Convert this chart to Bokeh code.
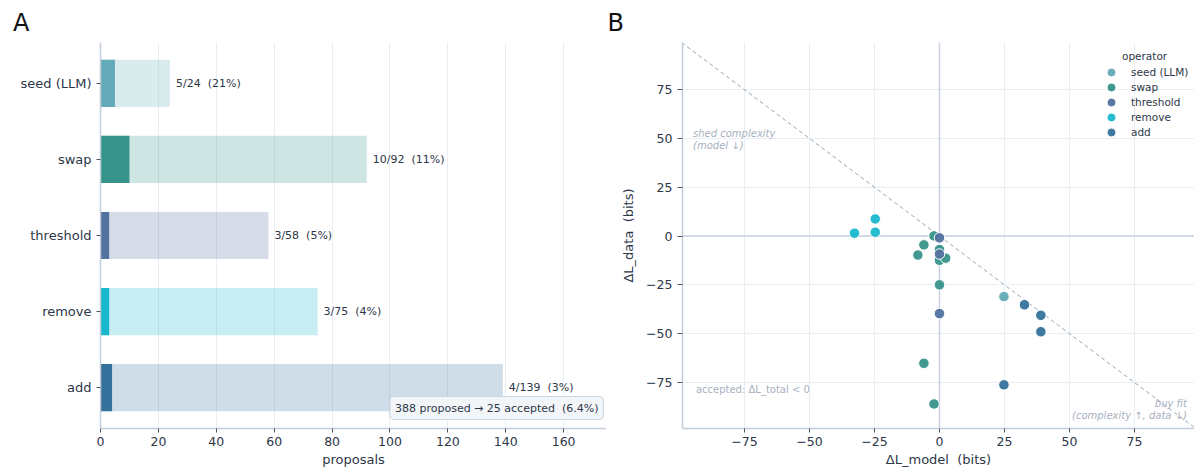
from bokeh.plotting import figure
from bokeh.models import (Range1d, FactorRange, Label, Span, Slope, Legend,
                          LegendItem, FixedTicker, ColumnDataSource)
from bokeh.layouts import row
from bokeh.embed import file_html
from bokeh.resources import INLINE
from bokeh.core.properties import value

# ---------------- data ----------------
operators = ["seed (LLM)", "swap", "threshold", "remove", "add"]
proposed = [24, 92, 58, 75, 139]
accepted = [5, 10, 3, 3, 4]
colors = ["#64aab8", "#37948a", "#5272a0", "#1ab8cc", "#34729b"]

# panel B: accepted proposals, change in model / data description length (bits)
seed_dm = [24.8]
seed_dd = [-31.0]
swap_dm = [-2.1, -6.0, -8.3, 0.0, 0.0, 2.4, 0.0, -6.0, -2.1]
swap_dd = [0.1, -4.5, -9.7, -6.9, -12.4, -11.3, -25.0, -65.2, -86.0]
threshold_dm = [0.0, 0.0, 0.0]
threshold_dd = [-0.9, -9.2, -39.7]
remove_dm = [-32.7, -24.7, -24.7]
remove_dd = [1.5, 2.0, 8.8]
add_dm = [32.7, 39.0, 39.0, 24.8]
add_dd = [-35.2, -40.6, -49.0, -76.2]

x_ticks_a = [0, 20, 40, 60, 80, 100, 120, 140, 160]
ticks_b = [-75, -50, -25, 0, 25, 50, 75]

FONT = "DejaVu Sans"
TXT = "#2d3748"
AXC = "#c3cdd9"
GRID = "#e9eef4"
ANN = "#a7b1c0"
TICKC = "#4a5568"
SP2 = " \u00a0"  # visible double space


def style_axes(p):
    for ax in (p.xaxis[0], p.yaxis[0]):
        ax.axis_line_color = AXC
        ax.axis_line_width = 1.5
        ax.major_tick_line_color = TICKC
        ax.major_tick_in = 0
        ax.major_tick_out = 4
        ax.minor_tick_line_color = None
        ax.major_label_text_font = FONT
        ax.major_label_text_font_size = "12.5px"
        ax.major_label_text_color = TXT
        ax.axis_label_text_font = FONT
        ax.axis_label_text_font_size = "13px"
        ax.axis_label_text_font_style = "normal"
        ax.axis_label_text_color = TXT
    p.outline_line_color = None


def panel_title(p, letter, offset):
    p.title.text = letter
    p.title.text_font = FONT
    p.title.text_font_size = "24px"
    p.title.text_font_style = "normal"
    p.title.text_color = "#111111"
    p.title.align = "left"
    p.title.offset = offset
    p.title.standoff = 11


# ---------------- panel A ----------------
pa = figure(width=606, height=469, output_backend="svg", toolbar_location=None,
            y_range=FactorRange(*reversed(operators), range_padding=0.0144),
            x_range=Range1d(0, 174.8),
            min_border_left=100, min_border_right=0, min_border_top=42, min_border_bottom=41)
style_axes(pa)
panel_title(pa, "A", -87.4)
pa.xaxis.ticker = FixedTicker(ticks=x_ticks_a)
pa.xaxis.axis_label = "proposals"
pa.xaxis.major_label_standoff = 4
pa.xaxis.axis_label_standoff = 3
pa.yaxis.major_label_standoff = 5
pa.yaxis.major_label_text_font_size = "13px"
pa.xgrid.grid_line_color = GRID
pa.ygrid.grid_line_color = None

src_a = ColumnDataSource(dict(
    op=operators, proposed=proposed, accepted=accepted, color=colors,
    label=[f"{a}/{t}{SP2}({round(100 * a / t)}%)" for a, t in zip(accepted, proposed)],
))
pa.hbar(y="op", left=0, right="proposed", height=0.62, fill_color="color",
        fill_alpha=0.24, line_color=None, source=src_a)
pa.hbar(y="op", left=0, right="accepted", height=0.62, fill_color="color",
        line_color=None, source=src_a)
pa.text(x="proposed", y="op", text="label", x_offset=6, text_baseline="middle",
        text_font=value(FONT), text_font_size="11px", text_color=TXT, source=src_a)

tot_p, tot_a = sum(proposed), sum(accepted)
pa.add_layout(Label(x=503, y=9, x_units="screen", y_units="screen",
                    text=f"{tot_p} proposed \u2192 {tot_a} accepted{SP2}({100 * tot_a / tot_p:.1f}%)",
                    text_align="right", text_baseline="bottom", text_font=FONT,
                    text_font_size="11px", text_color=TXT,
                    background_fill_color="#f3f6f9", border_line_color="#c9d5e1",
                    padding=5, border_radius=4))

# ---------------- panel B ----------------
pb = figure(width=588, height=469, output_backend="svg", toolbar_location=None,
            x_range=Range1d(-98.85, 98.1), y_range=Range1d(-98.6, 99.2),
            min_border_left=76, min_border_right=0, min_border_top=42, min_border_bottom=41)
style_axes(pb)
panel_title(pb, "B", -75)
minus = {t: str(t).replace("-", "\u2212") for t in ticks_b}
pb.xaxis.ticker = FixedTicker(ticks=ticks_b)
pb.yaxis.ticker = FixedTicker(ticks=ticks_b)
pb.xaxis.major_label_overrides = minus
pb.yaxis.major_label_overrides = minus
pb.xaxis.axis_label = f"\u0394L_model{SP2}(bits)"
pb.yaxis.axis_label = f"\u0394L_data{SP2}(bits)"
pb.xaxis.major_label_standoff = 4
pb.xaxis.axis_label_standoff = 3
pb.yaxis.major_tick_out = 5
pb.yaxis.major_label_standoff = 5
pb.yaxis.axis_label_standoff = 7
pb.xgrid.grid_line_color = GRID
pb.ygrid.grid_line_color = GRID

ann_kw = dict(text_font=FONT, text_font_size="10px", text_color=ANN, level="underlay")
pb.add_layout(Label(x=-94.8, y=52.5, text="shed complexity", text_baseline="middle",
                    text_font_style="italic", **ann_kw))
pb.add_layout(Label(x=-94.8, y=46.3, text="(model \u2193)", text_baseline="middle",
                    text_font_style="italic", **ann_kw))
pb.add_layout(Label(x=-93.7, y=-78.6, text="accepted: \u0394L_total < 0",
                    text_baseline="middle", **ann_kw))
pb.add_layout(Label(x=95.2, y=-85.8, text="buy fit", text_align="right",
                    text_baseline="middle", text_font_style="italic", **ann_kw))
pb.add_layout(Label(x=95.2, y=-91.9, text="(complexity \u2191, data \u2193)", text_align="right",
                    text_baseline="middle", text_font_style="italic", **ann_kw))

pb.add_layout(Span(location=0, dimension="height", line_color="#c8d1dd",
                   line_width=1.5, level="underlay"))
pb.add_layout(Span(location=0, dimension="width", line_color="#c8d1dd",
                   line_width=1.5, level="underlay"))
pb.add_layout(Slope(gradient=-1, y_intercept=0, line_color="#9aa5b5",
                    line_dash="4 3", line_width=1, level="underlay"))

series = [
    ("seed (LLM)", seed_dm, seed_dd),
    ("swap", swap_dm, swap_dd),
    ("threshold", threshold_dm, threshold_dd),
    ("remove", remove_dm, remove_dd),
    ("add", add_dm, add_dd),
]
items = []
for (name, xs, ys), col in zip(series, colors):
    r = pb.scatter(x=xs, y=ys, size=10.5, fill_color=col, line_color="white",
                   line_width=1, fill_alpha=0.95)
    items.append(LegendItem(label=name, renderers=[r]))

# two interleaved legends give 15px rows with 9px swatches
leg_kw = dict(orientation="vertical", glyph_width=22, glyph_height=22, label_height=22,
              spacing=8, label_standoff=9, padding=0, margin=0,
              label_text_font=FONT, label_text_font_size="10.5px", label_text_color=TXT,
              background_fill_alpha=0, border_line_color=None)
pb.add_layout(Legend(items=items[0::2], location=(418, 285), **leg_kw))
pb.add_layout(Legend(items=items[1::2], location=(418, 300), **leg_kw))
pb.add_layout(Label(x=70.2, y=92.1, text="operator", text_baseline="middle",
                    text_font=FONT, text_font_size="10.5px", text_color=TXT))

layout = row(pa, pb)
open("out.html", "w").write(file_html(layout, INLINE))
